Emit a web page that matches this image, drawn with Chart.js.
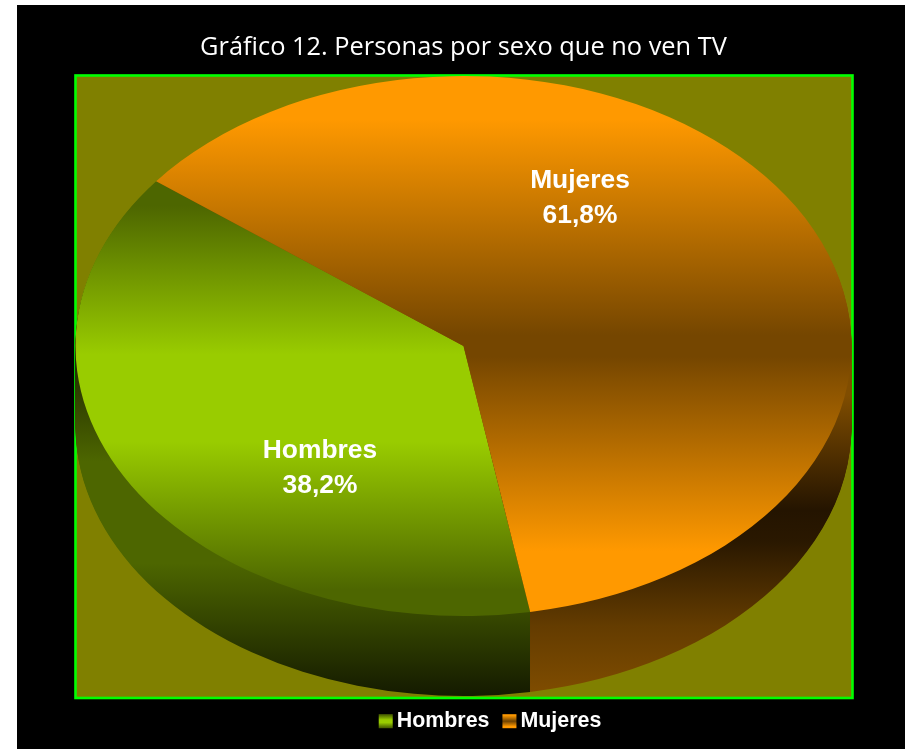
<!DOCTYPE html>
<html><head><meta charset="utf-8">
<style>
html,body{margin:0;padding:0;background:#fff;overflow:hidden;}
#frame{position:absolute;left:17px;top:5px;width:888px;height:744px;background:#000;}
#wrap{position:absolute;left:0;top:0;width:908px;height:749px;}
</style>
<script src="https://cdn.jsdelivr.net/npm/chart.js@4"></script>
</head><body>
<div id="frame"></div>
<div id="wrap"><canvas id="c" width="908" height="749"></canvas></div>
<script>
const categories = ['Hombres', 'Mujeres'];
const values = [38.2, 61.8];
const valueLabels = ['38,2%', '61,8%'];
const titleText = 'Gráfico 12. Personas por sexo que no ven TV';

const RX = 388, RY = 270, DEPTH = 80, SY = RY / RX, PIE_CY = 346;
const canvas = document.getElementById('c');

function grad(ctx, cy, offset, y0, y1, stops) {
  const f = p => cy + (p - PIE_CY - offset) / SY;
  const g = ctx.createLinearGradient(0, f(y0), 0, f(y1));
  stops.forEach(s => g.addColorStop(s[0], s[1]));
  return g;
}
const topStops = [
  [[0, '#4d6600'], [0.06, '#4d6600'], [0.4, '#99cc00'], [0.6, '#99cc00'], [0.94, '#4d6600'], [1, '#4d6600']],
  [[0, '#ff9900'], [0.08, '#ff9900'], [0.48, '#754600'], [0.52, '#754600'], [0.88, '#ff9900'], [1, '#ff9900']]
];
const topRange = [[180, 616], [76, 616]];
const sideStops = [
  [[0, '#1a2200'], [0.33, '#4d6600'], [0.62, '#4d6600'], [1, '#141a00']],
  [[0, '#804d00'], [0.14, '#804d00'], [0.47, '#241400'], [0.56, '#2a1800'], [0.8, '#643c00'], [1, '#804d00']]
];
const sideRange = [[346, 696], [346, 696]];
const LABEL_OFFSETS = [[-143.5, 122], [116.5, -147.5]];

const plotBg = {
  id: 'plotBg',
  beforeDatasetsDraw(chart) {
    const a = chart.chartArea, c = chart.ctx;
    c.save();
    c.fillStyle = '#808000';
    c.fillRect(a.left, a.top, a.width, a.height);
    c.strokeStyle = '#00ff00';
    c.lineWidth = 2.6;
    c.strokeRect(a.left + 0.5, a.top + 0.5, a.width, a.height);
    c.restore();
  }
};
const squash = {
  id: 'squash',
  beforeDatasetDraw(chart, args) {
    const c = chart.ctx, meta = args.meta;
    const cy = meta.data[0].y;
    c.save();
    c.translate(0, PIE_CY);
    c.scale(1, SY);
    c.translate(0, -cy);
    for (let k = DEPTH; k >= 1; k--) {
      c.save();
      c.translate(0, k / SY);
      meta.data.forEach((el, i) => {
        const saved = el.options.backgroundColor;
        const r = sideRange[i];
        el.options.backgroundColor = grad(c, cy, k, r[0], r[1], sideStops[i]);
        el.draw(c);
        el.options.backgroundColor = saved;
      });
      c.restore();
    }
  },
  afterDatasetDraw(chart) { chart.ctx.restore(); }
};
const labelsPlugin = {
  id: 'sliceLabels',
  afterDatasetsDraw(chart) {
    const c = chart.ctx, meta = chart.getDatasetMeta(0);
    c.save();
    c.fillStyle = '#fff';
    c.font = 'bold 26.4px "Liberation Sans"';
    c.textAlign = 'center';
    c.textBaseline = 'middle';
    meta.data.forEach((el, i) => {
      const x = el.x + LABEL_OFFSETS[i][0];
      const y = PIE_CY + LABEL_OFFSETS[i][1];
      c.fillText(categories[i], x, y - 17.5);
      c.fillText(valueLabels[i], x, y + 17.5);
    });
    c.restore();
  }
};
const LEGEND_SHIFT = 26.5, SWATCH = 14;
const legendTweak = {
  id: 'legendTweak',
  afterLayout(chart) {
    const l = chart.legend;
    l.left += 2 * LEGEND_SHIFT;
    l.legendHitBoxes.forEach(h => { h.left += LEGEND_SHIFT; });
  },
  afterDraw(chart) {
    const c = chart.ctx, l = chart.legend;
    c.save();
    l.legendHitBoxes.forEach((h, i) => {
      const top = h.top + (h.height - SWATCH) / 2;
      const g = c.createLinearGradient(0, top, 0, top + SWATCH);
      topStops[i].forEach(s => g.addColorStop(s[0], s[1]));
      c.fillStyle = g;
      c.fillRect(h.left, top, SWATCH, SWATCH);
    });
    c.restore();
  }
};

new Chart(canvas, {
  type: 'pie',
  data: {
    labels: categories,
    datasets: [{
      data: values,
      clip: false,
      borderWidth: 0,
      backgroundColor: (ctx) => {
        const i = ctx.dataIndex;
        const a = ctx.chart.chartArea;
        const cy = a ? (a.top + a.bottom) / 2 : 386;
        const r = topRange[i] || topRange[0];
        return grad(ctx.chart.ctx, cy, 0, r[0], r[1], topStops[i] || topStops[0]);
      }
    }]
  },
  options: {
    responsive: false,
    animation: false,
    rotation: 170.1,
    radius: RX,
    layout: { padding: { left: 75, right: 56, top: 0, bottom: 7.1 } },
    plugins: {
      title: {
        display: true,
        text: titleText,
        color: '#fff',
        font: { family: '"Open Sans"', size: 25.4, weight: 'normal' },
        padding: { top: 33, bottom: 11.5 }
      },
      legend: {
        position: 'bottom',
        labels: {
          color: '#fff',
          font: { family: '"Liberation Sans"', size: 21.4, weight: 'bold' },
          boxWidth: 7.3, boxHeight: 14, padding: 13,
          generateLabels() {
            return categories.map((t, i) => ({ text: t, fillStyle: 'transparent', strokeStyle: 'transparent', lineWidth: 0, fontColor: '#fff', index: i }));
          }
        }
      },
      tooltip: { enabled: false }
    }
  },
  plugins: [plotBg, squash, labelsPlugin, legendTweak]
});
</script>
</body></html>
